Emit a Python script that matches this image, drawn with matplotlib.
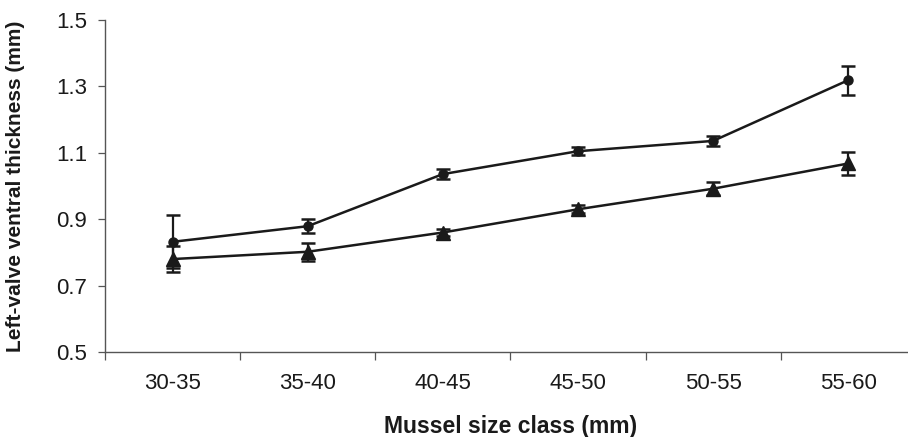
import numpy as np
import matplotlib
matplotlib.use("Agg")
import matplotlib.pyplot as plt
from matplotlib.ticker import FixedLocator

plt.rcParams['font.family'] = ['Liberation Sans', 'DejaVu Sans']

# data
size_classes = ["30-35", "35-40", "40-45", "45-50", "50-55", "55-60"]
circle_mean = [0.832, 0.879, 1.036, 1.105, 1.136, 1.319]
circle_err = [0.080, 0.021, 0.015, 0.012, 0.014, 0.044]
triangle_mean = [0.780, 0.802, 0.860, 0.930, 0.992, 1.068]
triangle_err = [0.039, 0.027, 0.010, 0.012, 0.020, 0.035]

x = np.arange(len(size_classes))

fig = plt.figure(figsize=(9.08, 4.37), dpi=100)
ax = fig.add_axes([0.1156, 0.1945, 0.893, 0.7595])

ax.errorbar(x, circle_mean, yerr=circle_err, color='#1a1a1a', marker='o',
            markersize=6.5, linewidth=1.8, elinewidth=1.6, capsize=5, capthick=1.8)
ax.errorbar(x, triangle_mean, yerr=triangle_err, color='#1a1a1a', marker='^',
            markersize=9.5, linewidth=1.8, elinewidth=1.6, capsize=5, capthick=1.8)

ax.set_xlim(-0.5, len(size_classes) - 0.5)
ax.set_ylim(0.5, 1.5)
yt = np.arange(0.5, 1.51, 0.2)
ax.set_yticks(yt)
ax.set_yticklabels([f"{v:.1f}" for v in yt])
ax.set_xticks(x)
ax.set_xticklabels(size_classes)
ax.xaxis.set_minor_locator(FixedLocator(np.arange(-0.5, len(size_classes), 1.0)))
ax.tick_params(axis='x', which='major', length=0, pad=15, labelsize=16, labelcolor='#1a1a1a')
ax.tick_params(axis='x', which='minor', length=6, width=0.9, color='#555555')
ax.tick_params(axis='y', length=5, width=0.9, color='#555555', labelsize=16, pad=8,
               labelcolor='#1a1a1a')

for s in ['top', 'right']:
    ax.spines[s].set_visible(False)
for s in ['left', 'bottom']:
    ax.spines[s].set_color('#555555')
    ax.spines[s].set_linewidth(1.0)

ax.set_xlabel("Mussel size class (mm)", fontsize=16.5, fontweight='bold',
              va='center', color='#1a1a1a')
ax.xaxis.set_label_coords(0.5, -0.223)
ax.set_ylabel("Left-valve ventral thickness (mm)", fontsize=15, fontweight='bold',
              va='center', color='#1a1a1a')
ax.yaxis.set_label_coords(-0.1098, 0.5)

fig.savefig("out.png", dpi=100)
